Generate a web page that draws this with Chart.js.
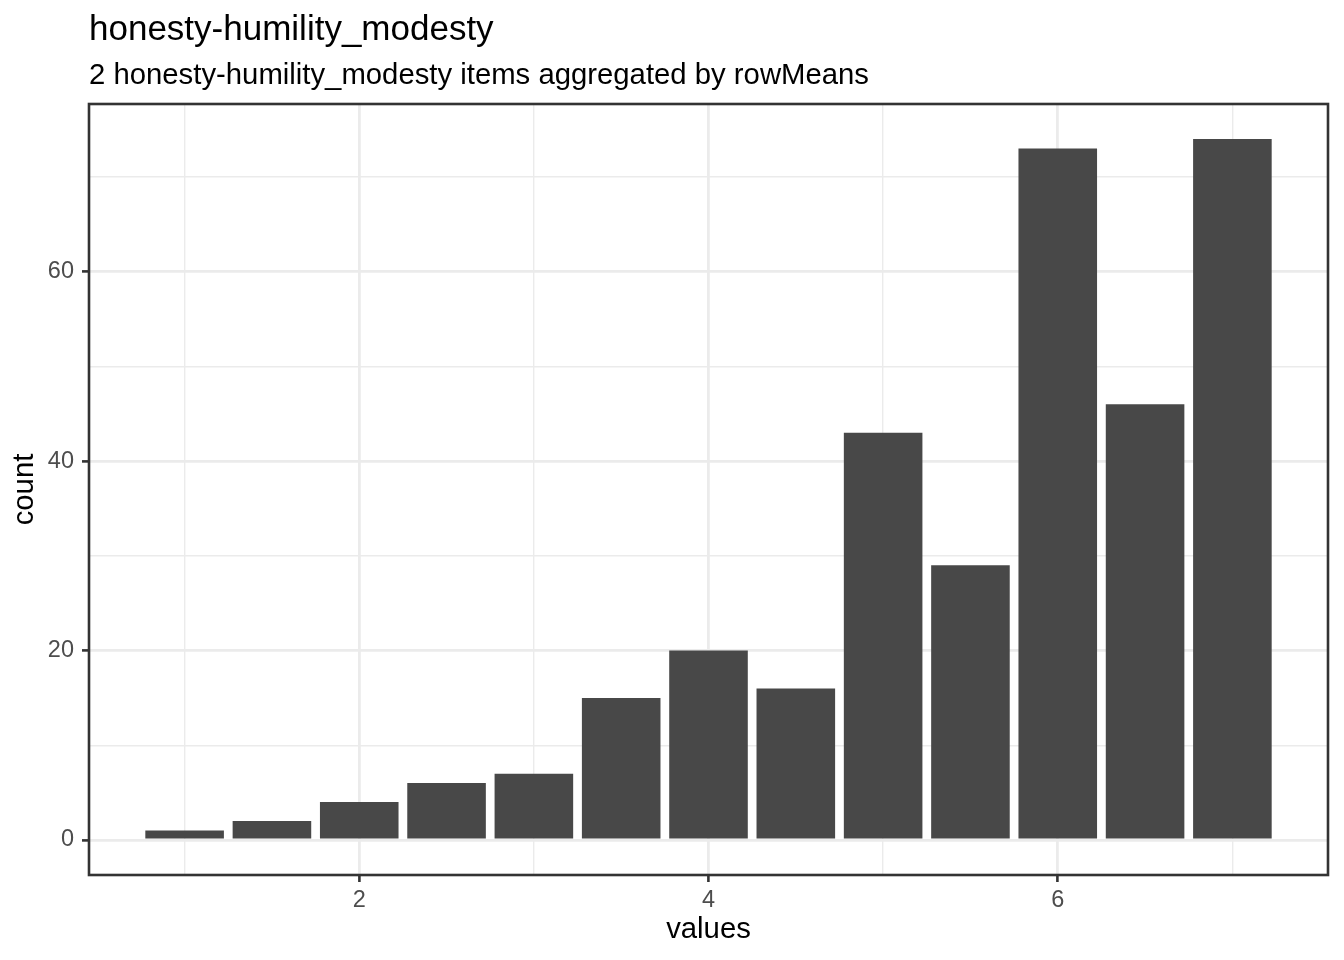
<!DOCTYPE html>
<html>
<head>
<meta charset="utf-8">
<script src="https://cdn.jsdelivr.net/npm/chart.js@4.4.1/dist/chart.umd.min.js"></script>
<style>
  html, body { margin: 0; padding: 0; background: #ffffff; }
  canvas { display: block; }
</style>
</head>
<body>
<canvas id="histChart" width="1344" height="960"></canvas>
<script>
// chart values
const binValues = [1, 1.5, 2, 2.5, 3, 3.5, 4, 4.5, 5, 5.5, 6, 6.5, 7];
const counts = [1, 2, 4, 6, 7, 15, 20, 16, 43, 29, 73, 46, 74];
const xGridValues = [1, 2, 3, 4, 5, 6, 7];
const xLabelValues = [2, 4, 6];
const yGridValues = [0, 10, 20, 30, 40, 50, 60, 70];
const yLabelValues = [0, 20, 40, 60];

const titleText = "honesty-humility_modesty";
const subtitleText = "2 honesty-humility_modesty items aggregated by rowMeans";

const FONT = "'Liberation Sans', Arial, Helvetica, sans-serif";
const gridColor = "#ebebeb";
const darkLine = "#333333";

// ggplot-like title, subtitle and panel border
const decorations = {
  id: "decorations",
  afterDraw(chart) {
    const { ctx, chartArea } = chart;
    ctx.save();
    ctx.strokeStyle = darkLine;
    ctx.lineWidth = 2.6;
    ctx.strokeRect(chartArea.left, chartArea.top,
      chartArea.right - chartArea.left, chartArea.bottom - chartArea.top);

    ctx.fillStyle = "#000000";
    ctx.textAlign = "left";
    ctx.textBaseline = "alphabetic";
    ctx.font = "35px " + FONT;
    ctx.fillText(titleText, chartArea.left, 40);
    ctx.font = "29.3px " + FONT;
    ctx.fillText(subtitleText, chartArea.left, 84);
    ctx.restore();
  },
};

const isMajor = (list, v) => list.includes(v);

new Chart(document.getElementById("histChart").getContext("2d"), {
  type: "bar",
  data: {
    datasets: [
      {
        data: binValues.map((x, i) => ({ x: x, y: counts[i] })),
        backgroundColor: "#484848",
        borderWidth: 0,
        categoryPercentage: 1.0,
        barPercentage: 0.9,
      },
    ],
  },
  options: {
    responsive: false,
    devicePixelRatio: 1,
    animation: false,
    layout: { padding: { top: 104, right: 16, left: 0, bottom: 0 } },
    plugins: {
      legend: { display: false },
      tooltip: { enabled: false },
    },
    scales: {
      x: {
        type: "linear",
        min: 0.4525,
        max: 7.5475,
        offset: false,
        afterBuildTicks(scale) {
          scale.ticks = xGridValues.map((v) => ({ value: v }));
        },
        afterFit(scale) {
          scale.height = 85;
        },
        border: { display: false },
        grid: {
          offset: false,
          color: gridColor,
          lineWidth: (c) => (isMajor(xLabelValues, c.tick.value) ? 2.8 : 1.4),
          tickColor: (c) => (isMajor(xLabelValues, c.tick.value) ? darkLine : "rgba(0,0,0,0)"),
          tickWidth: 2.6,
          tickLength: 7,
        },
        ticks: {
          autoSkip: false,
          maxRotation: 0,
          padding: 4,
          color: "#4d4d4d",
          font: { family: FONT, size: 23.5 },
          callback: (v) => (isMajor(xLabelValues, v) ? String(v) : ""),
        },
        title: {
          display: true,
          text: "values",
          color: "#000000",
          font: { family: FONT, size: 29.3 },
          padding: { top: 0, bottom: 13 },
        },
      },
      y: {
        type: "linear",
        min: -3.7,
        max: 77.7,
        afterBuildTicks(scale) {
          scale.ticks = yGridValues.map((v) => ({ value: v }));
        },
        afterFit(scale) {
          scale.width = 89;
        },
        border: { display: false },
        grid: {
          color: gridColor,
          lineWidth: (c) => (isMajor(yLabelValues, c.tick.value) ? 2.8 : 1.4),
          tickColor: (c) => (isMajor(yLabelValues, c.tick.value) ? darkLine : "rgba(0,0,0,0)"),
          tickWidth: 2.6,
          tickLength: 7,
        },
        ticks: {
          autoSkip: false,
          padding: 8,
          color: "#4d4d4d",
          font: { family: FONT, size: 23.5 },
          callback: (v) => (isMajor(yLabelValues, v) ? String(v) : ""),
        },
        title: {
          display: true,
          text: "count",
          color: "#000000",
          font: { family: FONT, size: 29.3 },
          padding: { top: 7, bottom: 0 },
        },
      },
    },
  },
  plugins: [decorations],
});
</script>
</body>
</html>
